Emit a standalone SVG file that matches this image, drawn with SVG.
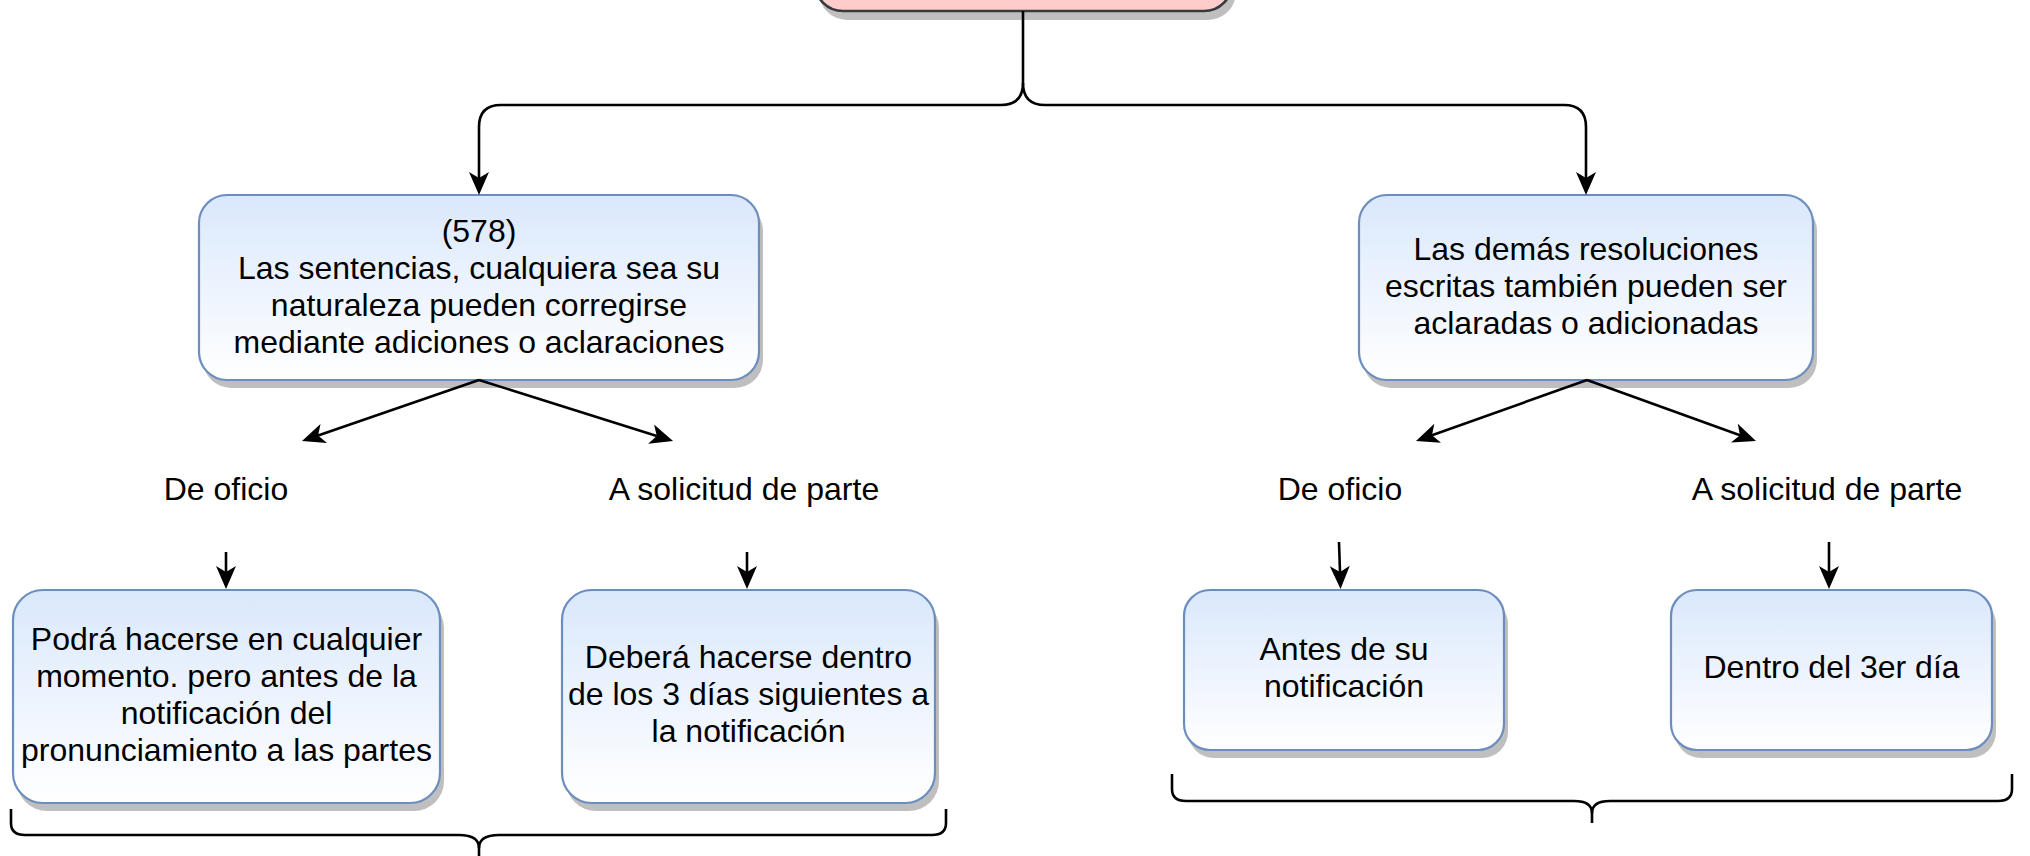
<svg xmlns="http://www.w3.org/2000/svg" width="2030" height="856" viewBox="0 0 2030 856">
<defs>
<linearGradient id="blueGrad" x1="0" y1="0" x2="0" y2="1">
<stop offset="0" stop-color="#dae8fc"/>
<stop offset="1" stop-color="#ffffff"/>
</linearGradient>
<marker id="arrow" markerUnits="userSpaceOnUse" markerWidth="40" markerHeight="40" viewBox="-10 -20 40 40" refX="0" refY="0" orient="auto" overflow="visible">
<path d="M17,0 L-6,-10 L0,0 L-6,10 Z" fill="#000"/>
</marker>
</defs>
<style>
.box{fill:url(#blueGrad);stroke:#6c8ebf;stroke-width:2.2}
.shadow{fill:#000;fill-opacity:0.25;stroke:none}
.top{fill:#ffcccc;stroke:#36393d;stroke-width:2.6}
.txt{font-family:"Liberation Sans",Arial,Helvetica,sans-serif;font-size:32px;fill:#000;text-anchor:middle}
.conn{fill:none;stroke:#000;stroke-width:2.6}
.arr{marker-end:url(#arrow)}
.brace{fill:none;stroke:#000;stroke-width:2.6}
</style>
<rect width="2030" height="856" fill="#ffffff"/>

<g id="node-top">
<rect class="shadow" x="819" y="-90" width="417" height="110" rx="28"/>
<rect class="top" x="815" y="-99" width="417" height="110" rx="28"/>
</g>

<g id="node-sentencias">
<rect class="shadow" x="203" y="203" width="560" height="185" rx="28"/>
<rect class="box" x="199" y="195" width="560" height="185" rx="28"/>
<text class="txt" x="479" y="242">(578)</text>
<text class="txt" x="479" y="279">Las sentencias, cualquiera sea su</text>
<text class="txt" x="479" y="316">naturaleza pueden corregirse</text>
<text class="txt" x="479" y="353">mediante adiciones o aclaraciones</text>
</g>

<g id="node-demas">
<rect class="shadow" x="1363" y="203" width="454" height="185" rx="28"/>
<rect class="box" x="1359" y="195" width="454" height="185" rx="28"/>
<text class="txt" x="1586" y="260">Las demás resoluciones</text>
<text class="txt" x="1586" y="297">escritas también pueden ser</text>
<text class="txt" x="1586" y="334">aclaradas o adicionadas</text>
</g>

<g id="label-oficio-1">
<text class="txt" x="226" y="500">De oficio</text>
</g>
<g id="label-parte-1">
<text class="txt" x="744" y="500">A solicitud de parte</text>
</g>
<g id="label-oficio-2">
<text class="txt" x="1340" y="500">De oficio</text>
</g>
<g id="label-parte-2">
<text class="txt" x="1827" y="500">A solicitud de parte</text>
</g>

<g id="node-podra">
<rect class="shadow" x="17" y="598" width="427" height="213" rx="30"/>
<rect class="box" x="13" y="590" width="427" height="213" rx="30"/>
<text class="txt" x="226.5" y="650">Podrá hacerse en cualquier</text>
<text class="txt" x="226.5" y="687">momento. pero antes de la</text>
<text class="txt" x="226.5" y="724">notificación del</text>
<text class="txt" x="226.5" y="761">pronunciamiento a las partes</text>
</g>

<g id="node-debera">
<rect class="shadow" x="566" y="598" width="373" height="213" rx="30"/>
<rect class="box" x="562" y="590" width="373" height="213" rx="30"/>
<text class="txt" x="748.5" y="668">Deberá hacerse dentro</text>
<text class="txt" x="748.5" y="705">de los 3 días siguientes a</text>
<text class="txt" x="748.5" y="742">la notificación</text>
</g>

<g id="node-antes">
<rect class="shadow" x="1188" y="598" width="320" height="160" rx="26"/>
<rect class="box" x="1184" y="590" width="320" height="160" rx="26"/>
<text class="txt" x="1344" y="660">Antes de su</text>
<text class="txt" x="1344" y="697">notificación</text>
</g>

<g id="node-dentro">
<rect class="shadow" x="1675" y="598" width="321" height="160" rx="26"/>
<rect class="box" x="1671" y="590" width="321" height="160" rx="26"/>
<text class="txt" x="1831.5" y="678">Dentro del 3er día</text>
</g>

<g id="connectors">
<path class="conn arr" d="M1023,11 V83 Q1023,105 1001,105 H501 Q479,105 479,127 V178"/>
<path class="conn arr" d="M1023,83 Q1023,105 1045,105 H1564 Q1586,105 1586,127 V178"/>
<path class="conn arr" d="M479,380 L318.1,435.5"/>
<path class="conn arr" d="M479,380 L656.8,435.9"/>
<path class="conn arr" d="M1587,380 L1432,435.3"/>
<path class="conn arr" d="M1587,380 L1740,435.2"/>
<path class="conn arr" d="M226,552 V572"/>
<path class="conn arr" d="M747,552 V572"/>
<path class="conn arr" d="M1339,542 L1340,572"/>
<path class="conn arr" d="M1829,542 V572"/>
</g>

<g id="brace-left">
<path class="brace" d="M11,809 V823 Q11,835 25,835 H459 Q479,835 479,848 V856"/>
<path class="brace" d="M946,809 V823 Q946,835 932,835 H499 Q479,835 479,848"/>
</g>
<g id="brace-right">
<path class="brace" d="M1172,774 V789 Q1172,801 1186,801 H1574 Q1592,801 1592,813 V823"/>
<path class="brace" d="M2012,774 V789 Q2012,801 1998,801 H1610 Q1592,801 1592,813"/>
</g>
</svg>
